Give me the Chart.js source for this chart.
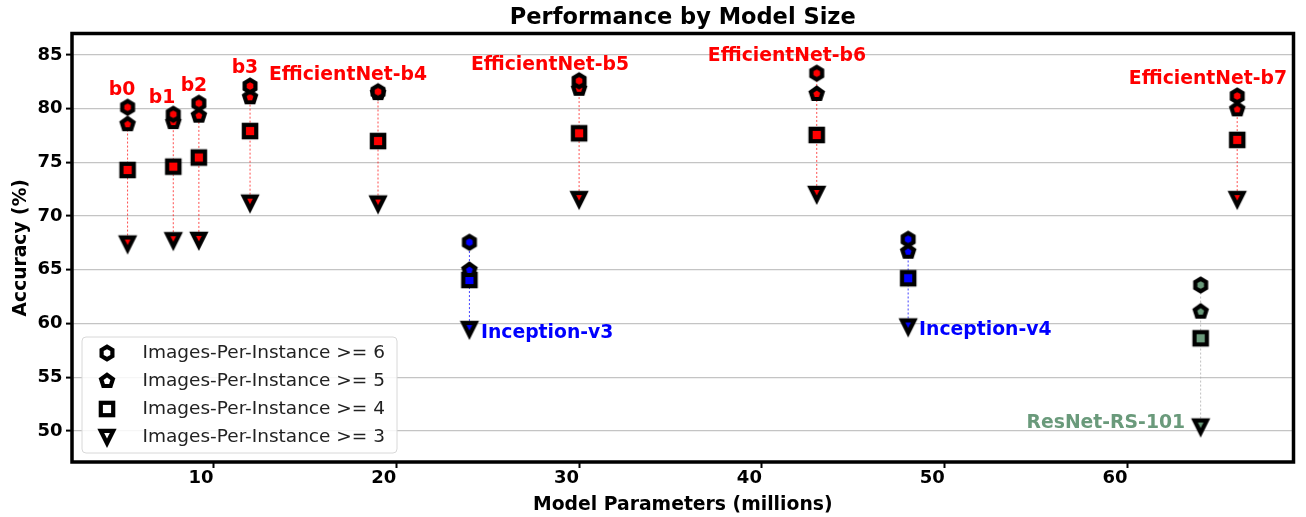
<!DOCTYPE html>
<html>
<head>
<meta charset="utf-8">
<style>html,body{margin:0;padding:0;background:#fff}</style>
<script src="https://cdn.jsdelivr.net/npm/chart.js@4.4.1/dist/chart.umd.min.js"></script>
</head>
<body>
<canvas id="c" width="1306" height="517"></canvas>
<script>
// ---- data ----
const models = ['b0','b1','b2','b3','EfficientNet-b4','EfficientNet-b5','EfficientNet-b6','EfficientNet-b7','Inception-v3','Inception-v4','ResNet-RS-101'];
const params = [5.3, 7.8, 9.2, 12, 19, 30, 43, 66, 24, 48, 64];
const acc6 = [80.13, 79.48, 80.5, 82.11, 81.58, 82.6, 83.3, 81.18, 67.56, 67.84, 63.58];
const acc5 = [78.55, 78.75, 79.35, 81.06, 81.45, 81.85, 81.37, 79.94, 64.98, 66.68, 61.1];
const acc4 = [74.29, 74.6, 75.45, 77.92, 76.99, 77.71, 77.55, 77.09, 64.05, 64.21, 58.62];
const acc3 = [67.44, 67.75, 67.78, 71.25, 71.17, 71.58, 72.06, 71.58, 59.48, 59.72, 50.4];
const family = ['eff','eff','eff','eff','eff','eff','eff','eff','inc','inc','res'];
const labelX = [5.0, 7.18, 8.93, 11.72, 17.36, 28.41, 41.37, 64.4, 24.63, 48.6, 63.15];
const labelY = [81.74, 81.0, 82.11, 83.79, 83.14, 84.07, 84.91, 82.77, 59.12, 59.4, 50.74];
const labelAlign = ['center','center','center','center','center','center','center','center','left','left','right'];
const seriesLabels = ['Images-Per-Instance >= 6','Images-Per-Instance >= 5','Images-Per-Instance >= 4','Images-Per-Instance >= 3'];
const seriesShapes = ['hex','pent','square','tri'];
const xTicks = [10, 20, 30, 40, 50, 60];
const yTicks = [50, 55, 60, 65, 70, 75, 80, 85];

// ---- styles ----
const famColor = {eff: '#ff0000', inc: '#0000ff', res: '#6a9a7b'};
const famLine = {eff: 'rgba(255,0,0,0.7)', inc: 'rgba(0,0,255,0.75)', res: 'rgba(170,170,170,0.75)'};
const FONT = '"DejaVu Sans", sans-serif';

function poly(n, R, cx, cy) {
  const pts = [];
  for (let k = 0; k < n; k++) {
    const a = -Math.PI / 2 + k * 2 * Math.PI / n;
    pts.push([cx + R * Math.cos(a), cy + R * Math.sin(a)]);
  }
  return pts;
}
function fillPts(g, pts, col) {
  g.beginPath();
  pts.forEach((p, i) => i ? g.lineTo(p[0], p[1]) : g.moveTo(p[0], p[1]));
  g.closePath();
  g.fillStyle = col;
  g.fill();
}
function makeMarker(shape, face) {
  const S = 30, c = S / 2, d = 2.1;
  const cv = document.createElement('canvas');
  cv.width = S; cv.height = S;
  const g = cv.getContext('2d');
  let outer, inner;
  if (shape === 'hex' || shape === 'pent') {
    const n = shape === 'hex' ? 6 : 5;
    const A = shape === 'hex' ? 5.4 : 5.0;
    const ca = Math.cos(Math.PI / n);
    outer = poly(n, (A + d) / ca, c, c);
    inner = poly(n, (A - d) / ca, c, c);
  } else if (shape === 'square') {
    const h = 6.2;
    const sq = r => [[c - r, c - r], [c + r, c - r], [c + r, c + r], [c - r, c + r]];
    outer = sq(h + d); inner = sq(h - d);
  } else {
    const P = 12.4;
    const r = 0.309 * P;
    const path = [[c - P / 2, c - P / 2], [c + P / 2, c - P / 2], [c, c + P / 2]];
    const I = [c, c - P / 2 + r];
    const hom = k => path.map(v => [I[0] + k * (v[0] - I[0]), I[1] + k * (v[1] - I[1])]);
    outer = hom((r + d) / r); inner = hom((r - d) / r);
  }
  fillPts(g, outer, '#000');
  fillPts(g, inner, face);
  return cv;
}
const markers = {};
['eff', 'inc', 'res'].forEach(f => {
  markers[f] = {};
  seriesShapes.forEach(s => markers[f][s] = makeMarker(s, famColor[f]));
});
const legendMarkers = seriesShapes.map(s => makeMarker(s, '#ffffff'));

const datasets = models.map((m, i) => {
  const f = family[i];
  return {
    label: m,
    data: [
      {x: params[i], y: acc3[i]},
      {x: params[i], y: acc4[i]},
      {x: params[i], y: acc5[i]},
      {x: params[i], y: acc6[i]}
    ],
    showLine: true,
    borderColor: famLine[f],
    borderWidth: 1,
    borderDash: [2, 2],
    pointStyle: [markers[f].tri, markers[f].square, markers[f].pent, markers[f].hex],
    pointRadius: 6,
    pointHoverRadius: 6
  };
});

const annotPlugin = {
  id: 'annot',
  afterDatasetsDraw(chart) {
    const {ctx, scales: {x, y}} = chart;
    ctx.save();
    ctx.font = 'bold 18.8px ' + FONT;
    ctx.textBaseline = 'middle';
    models.forEach((m, i) => {
      ctx.fillStyle = famColor[family[i]];
      ctx.textAlign = labelAlign[i];
      ctx.fillText(m, x.getPixelForValue(labelX[i]), y.getPixelForValue(labelY[i]));
    });
    ctx.restore();
  }
};

const framePlugin = {
  id: 'frame',
  afterDraw(chart) {
    const {ctx, chartArea: a} = chart;
    ctx.save();
    // legend
    const lx = 82, ly = 337, lw = 315, lh = 116, rr = 4;
    ctx.beginPath();
    ctx.moveTo(lx + rr, ly);
    ctx.arcTo(lx + lw, ly, lx + lw, ly + lh, rr);
    ctx.arcTo(lx + lw, ly + lh, lx, ly + lh, rr);
    ctx.arcTo(lx, ly + lh, lx, ly, rr);
    ctx.arcTo(lx, ly, lx + lw, ly, rr);
    ctx.closePath();
    ctx.fillStyle = 'rgba(255,255,255,0.85)';
    ctx.fill();
    ctx.strokeStyle = '#d8d8d8';
    ctx.lineWidth = 1;
    ctx.stroke();
    ctx.font = '18.5px ' + FONT;
    ctx.fillStyle = '#222';
    ctx.textAlign = 'left';
    ctx.textBaseline = 'middle';
    seriesLabels.forEach((t, k) => {
      const yy = 353 + 28 * k;
      const img = legendMarkers[k];
      ctx.drawImage(img, 107 - img.width / 2, yy - img.height / 2);
      ctx.fillText(t, 142.5, yy);
    });
    // frame
    ctx.strokeStyle = '#000';
    ctx.lineWidth = 3.5;
    ctx.strokeRect(a.left, a.top, a.right - a.left, a.bottom - a.top);
    ctx.restore();
  }
};

new Chart(document.getElementById('c'), {
  type: 'scatter',
  data: {datasets},
  options: {
    responsive: false,
    animation: false,
    events: [],
    layout: {padding: {top: 0, right: 12.5, bottom: 0, left: 0}},
    plugins: {
      legend: {display: false},
      tooltip: {enabled: false},
      title: {
        display: true,
        text: 'Performance by Model Size',
        fullSize: false,
        color: '#000',
        font: {family: FONT, size: 22.5, weight: 'bold', lineHeight: 1.2},
        padding: {top: 5, bottom: 1.5}
      }
    },
    scales: {
      x: {
        type: 'linear',
        position: 'bottom',
        min: 2.26,
        max: 69.08,
        afterBuildTicks: s => { s.ticks = xTicks.map(v => ({value: v})); },
        afterFit: s => { s.height = 55; },
        border: {display: false},
        grid: {drawOnChartArea: false, drawTicks: true, tickColor: '#000', tickWidth: 2, tickLength: 6},
        ticks: {align: 'end', color: '#000', padding: 0, font: {family: FONT, size: 18, weight: 'bold'}},
        title: {display: true, text: 'Model Parameters (millions)', color: '#000',
          font: {family: FONT, size: 18.8, weight: 'bold', lineHeight: 1.2}, padding: {top: 0, bottom: 0.8}}
      },
      y: {
        type: 'linear',
        min: 47.1,
        max: 87.0,
        afterBuildTicks: s => { s.ticks = yTicks.map(v => ({value: v})); },
        afterFit: s => { s.width = 72; },
        border: {display: false},
        grid: {color: '#c4c4c4', lineWidth: 1.2, drawTicks: true, tickColor: '#000', tickWidth: 2, tickLength: 6},
        ticks: {color: '#000', padding: 3.5, font: {family: FONT, size: 18, weight: 'bold'}},
        title: {display: true, text: 'Accuracy (%)', color: '#000',
          font: {family: FONT, size: 18.7, weight: 'bold', lineHeight: 1.2}, padding: {top: 10.3, bottom: 0}}
      }
    }
  },
  plugins: [annotPlugin, framePlugin]
});
</script>
</body>
</html>
